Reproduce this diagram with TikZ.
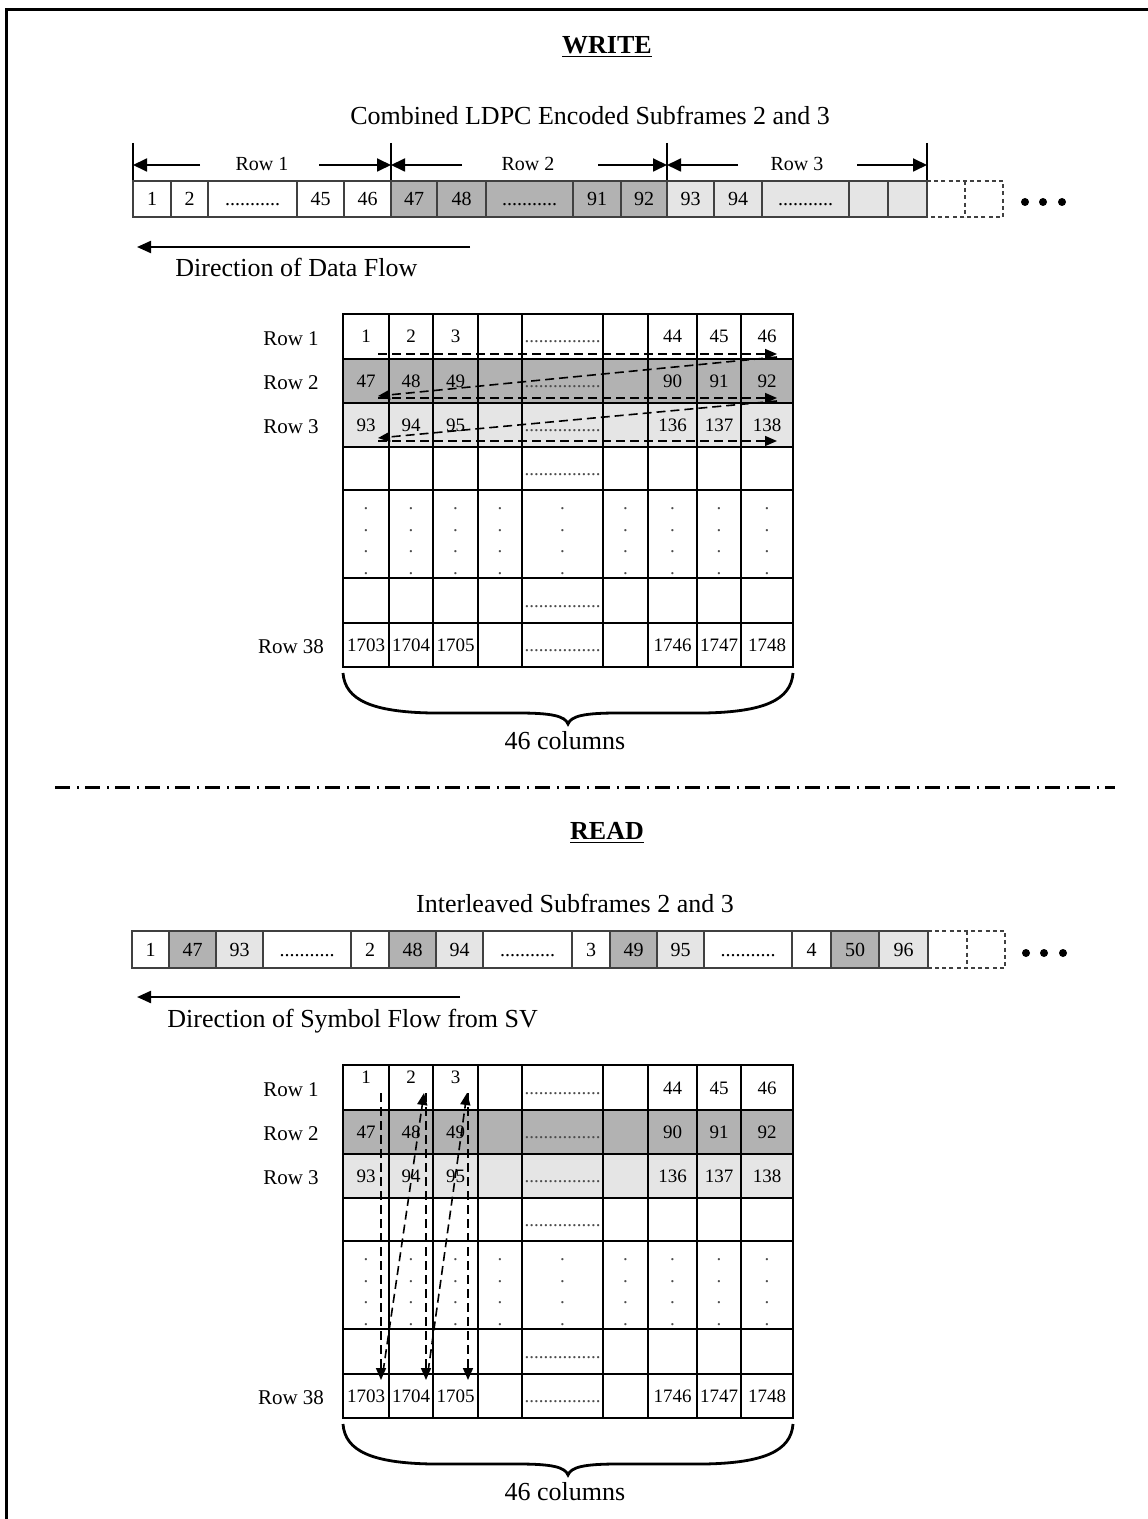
\documentclass[tikz,border=0pt]{standalone}
\usepackage{fontspec}
\setmainfont{Liberation Serif}
\usetikzlibrary{arrows.meta}
\definecolor{dk}{gray}{0.70}
\definecolor{lt}{gray}{0.90}
\newcommand{\gd}{\textcolor{black!70}{................}}
\newcommand{\bd}{...........}
\newcommand{\gridrow}[4]{%
  \foreach \t [count=\j] in {#4} {%
    \pgfmathsetmacro\xc{{366,411,455.5,500,562.5,625.5,672.5,719,767}[\j-1]}%
    \node[gnum,anchor=base] (#1g#2-\j) at (\xc,#3+6.5) {\t};}}
\newcommand{\drawgrid}[3]{%
 \begin{scope}[shift={(0,#2)}]
  \fill[dk] (343,359) rectangle (793,403);
  \fill[lt] (343,403) rectangle (793,447);
  \foreach \x in {389,433,478,522,603,648,697,741} \draw[gridline] (\x,314) -- (\x,667);
  \foreach \y in {359,403,447,490,578,623} \draw[gridline] (343,\y) -- (793,\y);
  \draw[gridline] (343,314) rectangle (793,667);
  \node[gnum,anchor=base] (#1t1) at (366,#3) {1};
  \node[gnum,anchor=base] (#1t2) at (411,#3) {2};
  \node[gnum,anchor=base] (#1t3) at (455.5,#3) {3};
  \gridrow{#1}{1}{336.5}{{},{},{},{},\gd,{},44,45,46}
  \gridrow{#1}{2}{381}{47,48,49,{},\gd,{},90,91,92}
  \gridrow{#1}{3}{425}{93,94,95,{},\gd,{},136,137,138}
  \gridrow{#1}{4}{468.5}{{},{},{},{},\gd}
  \gridrow{#1}{6}{600.5}{{},{},{},{},\gd}
  \gridrow{#1}{7}{645}{1703,1704,1705,{},\gd,{},1746,1747,1748}
  \foreach \x [count=\j] in {366,411,455.5,500,562.5,625.5,672.5,719,767}
    \foreach \y [count=\k] in {508,530,551,573}
      \node[gnum,anchor=base,text=black!70] (#1v\j-\k) at (\x,\y+1.5) {.};
  \node[rowlab] (#1l1) at (291,339) {Row 1};
  \node[rowlab] (#1l2) at (291,383) {Row 2};
  \node[rowlab] (#1l3) at (291,427) {Row 3};
  \node[rowlab] (#1l38) at (291,647) {Row 38};
  \coordinate (#1bl) at (343,673);
  \coordinate (#1br) at (793,673);
  \draw[line width=1.4pt] (#1bl) .. controls (345,700) and (372,712) .. (432,713) -- (518,713)
     .. controls (552,713) and (565,716) .. (568,724)
     .. controls (571,716) and (584,713) .. (618,713) -- (704,713)
     .. controls (764,712) and (791,700) .. (#1br);
  \node[big] (#1cols) at (565,741) {46 columns};
 \end{scope}}
\begin{document}
\begin{tikzpicture}[x=0.5pt,y=-0.5pt,
  num/.style={font=\fontsize{10}{12}\selectfont, inner sep=0pt},
  gnum/.style={font=\fontsize{9.5}{11}\selectfont, inner sep=0pt},
  rowlab/.style={font=\fontsize{10.5}{12}\selectfont, inner sep=0pt},
  big/.style={font=\fontsize{13}{15}\selectfont, inner sep=0pt},
  barcell/.style={draw=black!75, line width=0.8pt},
  dashcell/.style={draw=black!75, line width=0.8pt, dash pattern=on 2pt off 1.6pt},
  dimarrow/.style={line width=0.9pt, -{Triangle[length=7pt,width=6.5pt]}},
  flowarrow/.style={line width=1.1pt, -{Triangle[length=7pt,width=6pt]}},
  dasharrow/.style={line width=0.8pt, dash pattern=on 4.5pt off 2.5pt, -{Triangle[length=6pt,width=5pt]}},
  gridline/.style={line width=1pt},
]
\path[use as bounding box] (0,0) rectangle (1147,1519);
% frame
\draw[line width=1.5pt] (6,1530) -- (6,10) -- (1160,10);

% ===== WRITE =====
\node[big] (wtitle) at (607,47) {\underline{\textbf{WRITE}}};
\node[big] (wsub) at (590,115) {Combined LDPC Encoded Subframes 2 and 3};

% dimension lines
\foreach \x [count=\i] in {133,391,667,927} {
  \coordinate (tt\i) at (\x,143); \coordinate (tb\i) at (\x,181);
  \draw[line width=0.8pt] (tt\i) -- (tb\i);}
\coordinate (d1a) at (200,165); \coordinate (d1b) at (133,165);
\coordinate (d2a) at (319,165); \coordinate (d2b) at (391,165);
\coordinate (d3a) at (462,165); \coordinate (d3b) at (391,165);
\coordinate (d4a) at (598,165); \coordinate (d4b) at (667,165);
\coordinate (d5a) at (738,165); \coordinate (d5b) at (667,165);
\coordinate (d6a) at (857,165); \coordinate (d6b) at (927,165);
\foreach \i in {1,...,6} \draw[dimarrow] (d\i a) -- (d\i b);
\node[num] (r1lab) at (262,164) {Row 1};
\node[num] (r2lab) at (528,164) {Row 2};
\node[num] (r3lab) at (797,164) {Row 3};

% top bar
\foreach \a/\b/\t/\f [count=\i] in {133/171/1/white, 171/208/2/white, 208/297/\bd/white,
   297/344/45/white, 344/391/46/white, 391/437/47/dk, 437/486/48/dk, 486/573/\bd/dk,
   573/621/91/dk, 621/667/92/dk, 667/714/93/lt, 714/762/94/lt, 762/849/\bd/lt,
   849/888/{}/lt, 888/927/{}/lt} {
  \draw[barcell, fill=\f] (\a,181) rectangle (\b,217);
  \node[num, anchor=base] (wb\i) at ({(\a+\b)/2},206) {\t};}
\draw[dashcell] (927,181) -- (1003,181) -- (1003,217) -- (927,217);
\draw[dashcell] (965,181) -- (965,217);
\foreach \x [count=\i] in {1025,1043,1062} \fill (\x,202) circle (4);

\coordinate (wf1) at (470,247); \coordinate (wf2) at (137,247);
\draw[flowarrow] (wf1) -- (wf2);
\node[big, anchor=west] (wflow) at (175,267) {Direction of Data Flow};

\drawgrid{w}{0}{343}

% write arrows
\coordinate (wa1) at (378,354); \coordinate (wa2) at (777,354);
\coordinate (wa3) at (777,357); \coordinate (wa4) at (378,396);
\coordinate (wa5) at (378,398); \coordinate (wa6) at (777,398);
\coordinate (wa7) at (777,401); \coordinate (wa8) at (378,438);
\coordinate (wa9) at (378,441); \coordinate (wa10) at (777,441);
\draw[dasharrow] (wa1) -- (wa2);
\draw[dasharrow] (wa3) -- (wa4);
\draw[dasharrow] (wa5) -- (wa6);
\draw[dasharrow] (wa7) -- (wa8);
\draw[dasharrow] (wa9) -- (wa10);

% separator
\coordinate (sepL) at (55,787); \coordinate (sepR) at (1115,787);
\draw[line width=1.5pt, dash pattern=on 7.5pt off 3.5pt on 1pt off 3pt] (sepL) -- (sepR);

% ===== READ =====
\node[big] (rtitle) at (607,833) {\underline{\textbf{READ}}};
\node[big] (rsub) at (575,903) {Interleaved Subframes 2 and 3};

\foreach \a/\b/\t/\f [count=\i] in {132/169/1/white, 169/216/47/dk, 216/263/93/lt,
   263/351/\bd/white, 351/389/2/white, 389/436/48/dk, 436/483/94/lt, 483/572/\bd/white,
   572/610/3/white, 610/657/49/dk, 657/704/95/lt, 704/792/\bd/white,
   792/831/4/white, 831/879/50/dk, 879/928/96/lt} {
  \draw[barcell, fill=\f] (\a,931) rectangle (\b,968);
  \node[num, anchor=base] (rb\i) at ({(\a+\b)/2},956) {\t};}
\draw[dashcell] (928,931) -- (1005,931) -- (1005,968) -- (928,968);
\draw[dashcell] (967,931) -- (967,968);
\foreach \x [count=\i] in {1026,1044,1063} \fill (\x,953) circle (4);

\coordinate (rf1) at (460,997); \coordinate (rf2) at (137,997);
\draw[flowarrow] (rf1) -- (rf2);
\node[big, anchor=west] (rflow) at (167,1021) {Direction of Symbol Flow from SV};

\drawgrid{r}{751}{332}

% read arrows
\coordinate (ra1) at (381,1093); \coordinate (ra2) at (381,1380);
\coordinate (ra3) at (383,1372); \coordinate (ra4) at (424,1093);
\coordinate (ra5) at (426,1093); \coordinate (ra6) at (426,1380);
\coordinate (ra7) at (428,1372); \coordinate (ra8) at (467,1093);
\coordinate (ra9) at (468,1093); \coordinate (ra10) at (468,1380);
\draw[dasharrow] (ra1) -- (ra2);
\draw[dasharrow] (ra3) -- (ra4);
\draw[dasharrow] (ra5) -- (ra6);
\draw[dasharrow] (ra7) -- (ra8);
\draw[dasharrow] (ra9) -- (ra10);
\end{tikzpicture}
\end{document}
